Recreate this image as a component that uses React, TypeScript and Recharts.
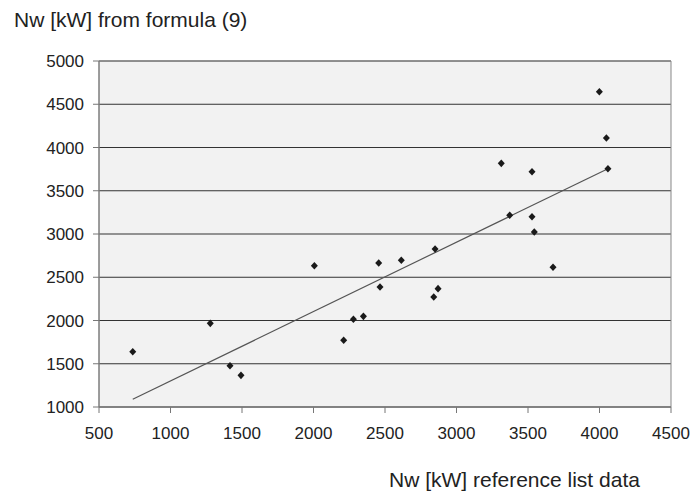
import React from "react";
import {
  ScatterChart,
  Scatter,
  XAxis,
  YAxis,
  CartesianGrid,
  ReferenceLine,
  ReferenceArea,
} from "recharts";

// Nw [kW] reference list data vs Nw [kW] from formula (9)
const refX = [
  736, 1278, 1416, 1493, 2006, 2211, 2279, 2349, 2456, 2465, 2614, 2841,
  2850, 2871, 3313, 3372, 3528, 3528, 3544, 3675, 3999, 4048, 4059,
];
const formulaY = [
  1639, 1967, 1477, 1366, 2633, 1771, 2014, 2048, 2665, 2387, 2696, 2272,
  2827, 2368, 3817, 3216, 3720, 3200, 3023, 2615, 4645, 4110, 3755,
];

// trend line end points
const trendX = [736, 4059];
const trendY = [1089, 3755];

const xTicks = [500, 1000, 1500, 2000, 2500, 3000, 3500, 4000, 4500];
const yTicks = [1000, 1500, 2000, 2500, 3000, 3500, 4000, 4500, 5000];

const points = refX.map((x, i) => ({ x, y: formulaY[i] }));

const font = "'Liberation Sans', Arial, sans-serif";

const Diamond = (props: any) => {
  const { cx, cy } = props;
  if (cx == null || cy == null) return <g />;
  return (
    <polygon
      points={`${cx},${cy - 3.8} ${cx + 3.5},${cy} ${cx},${cy + 3.8} ${cx - 3.5},${cy}`}
      fill="#1a1a1a"
    />
  );
};

const tickStyle = { fill: "#222", fontSize: 17, fontFamily: font };

export default function App() {
  return (
    <div
      style={{
        position: "absolute",
        left: 0,
        top: 0,
        width: 690,
        height: 495,
        background: "#fff",
        fontFamily: font,
      }}
    >
      <div
        style={{
          position: "absolute",
          left: 14,
          top: 9,
          fontSize: 21,
          lineHeight: 1,
          color: "#222",
          whiteSpace: "nowrap",
        }}
      >
        Nw [kW] from formula (9)
      </div>
      <ScatterChart
        width={690}
        height={495}
        margin={{ top: 61, right: 19, bottom: 48, left: 0 }}
      >
        <CartesianGrid vertical={false} fill="#f2f2f2" stroke="#333" />
        <XAxis
          type="number"
          dataKey="x"
          domain={[500, 4500]}
          ticks={xTicks}
          interval={0}
          height={40}
          tickSize={6}
          tickMargin={14}
          stroke="#777"
          tick={tickStyle}
        />
        <YAxis
          type="number"
          dataKey="y"
          domain={[1000, 5000]}
          ticks={yTicks}
          interval={0}
          width={99}
          tickSize={6}
          tickMargin={9}
          stroke="#777"
          tick={tickStyle}
        />
        <ReferenceArea
          x1={500}
          x2={4500}
          y1={1000}
          y2={5000}
          fill="none"
          stroke="#888"
          strokeWidth={1}
          fillOpacity={0}
        />
        <ReferenceLine
          segment={[
            { x: trendX[0], y: trendY[0] },
            { x: trendX[1], y: trendY[1] },
          ]}
          stroke="#555"
          strokeWidth={1.2}
        />
        <Scatter
          data={points}
          shape={<Diamond />}
          isAnimationActive={false}
        />
      </ScatterChart>
      <div
        style={{
          position: "absolute",
          left: 389,
          top: 469,
          fontSize: 21,
          lineHeight: 1,
          color: "#222",
          whiteSpace: "nowrap",
        }}
      >
        Nw [kW] reference list data
      </div>
    </div>
  );
}
